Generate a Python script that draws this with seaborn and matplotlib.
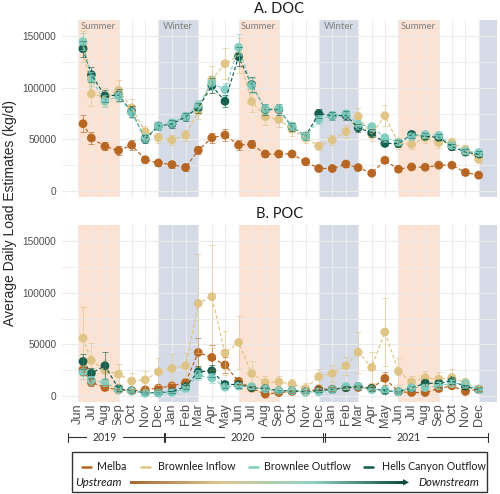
import numpy as np
import pandas as pd
import matplotlib
matplotlib.use("Agg")
import matplotlib.pyplot as plt
from matplotlib.lines import Line2D
from matplotlib.patches import Rectangle, Polygon
from matplotlib.colors import LinearSegmentedColormap
import seaborn as sns

# sample dates (first campaign started mid-June 2019)
sample_dates = ["2019-06-12", "2019-07-01", "2019-08-01", "2019-09-01", "2019-10-01", "2019-11-01",
                "2019-12-01", "2020-01-01", "2020-02-01", "2020-03-01", "2020-04-01", "2020-05-01",
                "2020-06-01", "2020-07-01", "2020-08-01", "2020-09-01", "2020-10-01", "2020-11-01",
                "2020-12-01", "2021-01-01", "2021-02-01", "2021-03-01", "2021-04-01", "2021-05-01",
                "2021-06-01", "2021-07-01", "2021-08-01", "2021-09-01", "2021-10-01", "2021-11-01",
                "2021-12-01"]
sites = ["Melba", "Brownlee Inflow", "Brownlee Outflow", "Hells Canyon Outflow"]
site_colors = ["#b5621c", "#dfc383", "#80cdc1", "#0d5a48"]
# order the layers are drawn in (light teal ends up on top)
draw_order = ["Melba", "Brownlee Inflow", "Hells Canyon Outflow", "Brownlee Outflow"]

# DOC loads (kg/d)
doc_melba = [65200, 51300, 43200, 39100, 44500, 30200, 27100, 25500, 22700, 39400, 51500, 54200, 44500,
             45200, 35800, 35800, 35800, 28400, 21700, 21700, 26000, 22600, 17100, 29700, 21000, 23200,
             22900, 24900, 24900, 17800, 15200]
doc_inflow = [140000, 94200, 91000, 97700, 80700, 57400, 51600, 49300, 53900, 77400, 108000, 123500, 131500,
              86800, 72000, 69300, 59700, 51300, 43500, 49300, 57500, 72300, 54800, 73000, 46100, 45200,
              51600, 46800, 46800, 40300, 30700]
doc_outflow = [145000, 108700, 87000, 91900, 75800, 51600, 62900, 66200, 72500, 82900, 104800, 98400, 139500,
               102200, 79700, 79700, 63000, 53000, 69300, 73200, 75000, 64500, 62300, 51600, 47400, 52600,
               54800, 53900, 44200, 38700, 37100]
doc_hells = [138000, 112900, 92300, 93000, 77000, 50300, 63000, 65000, 72000, 80700, 102200, 87000, 130300,
             103200, 79000, 79000, 62300, 53200, 75100, 73000, 73200, 61300, 56500, 46100, 46000, 54800,
             53000, 52000, 42900, 37700, 35500]
doc_melba_err = [8000, 6000, 4000, 4000, 5000, 3000, 3000, 3000, 3000, 4000, 5000, 6000, 5000, 4000, 3000, 3000,
                 3000, 3000, 2000, 2000, 3000, 2000, 2000, 3000, 2000, 2000, 2000, 2000, 2000, 2000, 2000]
doc_inflow_err = [15000, 12000, 9000, 10000, 9000, 6000, 5000, 5000, 5000, 8000, 13000, 15000, 17000, 10000,
                  8000, 7000, 6000, 5000, 4000, 5000, 6000, 8000, 6000, 10000, 5000, 5000, 5000, 5000, 5000,
                  4000, 4000]
doc_outflow_err = [8000, 7000, 6000, 6000, 5000, 4000, 4000, 4000, 4000, 5000, 7000, 6000, 13000, 7000, 5000,
                   5000, 4000, 4000, 4000, 4000, 4000, 4000, 4000, 4000, 3000, 3000, 3000, 3000, 3000, 3000, 3000]
doc_hells_err = [8000, 7000, 6000, 6000, 5000, 4000, 4000, 4000, 4000, 5000, 7000, 6000, 9000, 7000, 5000,
                 5000, 4000, 4000, 4000, 4000, 4000, 4000, 4000, 3000, 3000, 3000, 3000, 3000, 3000, 3000, 3000]

# POC loads (kg/d)
poc_melba = [25300, 13000, 8100, 5800, 4900, 5800, 7500, 9700, 12900, 42100, 37300, 30000, 14100, 7500, 1600,
             3200, 4200, 4200, 6500, 6500, 7800, 8100, 7500, 17000, 4000, 3200, 3200, 7100, 9700, 4200, 6500]
poc_inflow = [56100, 34400, 24600, 21100, 14300, 15600, 23300, 26600, 29200, 89800, 96300, 41600, 51900, 21700,
              12900, 13500, 11400, 7100, 18600, 21800, 29200, 42500, 27600, 62000, 23700, 13500, 17500, 16200,
              17800, 12500, 6500]
poc_outflow = [22700, 15000, 12900, 6000, 4500, 2600, 2600, 3200, 7100, 20100, 17300, 8500, 9500, 9000, 6500,
               5000, 5000, 3500, 4000, 6000, 9000, 9000, 6000, 5500, 4000, 8000, 8000, 10000, 12000, 12000, 6000]
poc_hells = [33400, 21900, 29200, 7100, 5000, 3000, 3000, 4000, 9000, 23300, 24300, 11000, 11000, 8000, 7000,
             5000, 5000, 4000, 5000, 6000, 8000, 9000, 7000, 5000, 4000, 7500, 12300, 12000, 14600, 9000, 6000]
poc_melba_err = [5000, 3000, 2000, 2000, 2000, 2000, 2000, 2000, 3000, 14000, 12000, 8000, 3000, 2000, 1000,
                 1000, 1000, 1000, 2000, 2000, 2000, 2000, 2000, 6000, 1000, 1000, 1000, 2000, 2000, 1000, 2000]
poc_inflow_err = [30000, 17000, 10000, 10000, 8000, 9000, 13000, 14000, 12000, 48000, 50000, 21000, 26000,
                  12000, 6000, 6000, 5000, 5000, 7000, 8000, 9000, 20000, 15000, 33000, 13000, 6000, 7000,
                  7000, 8000, 5000, 4000]
poc_outflow_err = [6000, 4000, 3000, 2000, 1000, 1000, 1000, 1000, 2000, 5000, 5000, 3000, 3000, 2000, 2000,
                   1000, 1000, 1000, 1000, 2000, 2000, 2000, 2000, 2000, 1000, 2000, 2000, 3000, 3000, 3000, 2000]
poc_hells_err = [7000, 5000, 13000, 2000, 1000, 1000, 1000, 1000, 2000, 6000, 6000, 3000, 3000, 2000, 2000,
                 1000, 1000, 1000, 1000, 2000, 2000, 2000, 2000, 2000, 1000, 2000, 3000, 3000, 3000, 2000, 2000]

summer_start = ["2019-06-01", "2020-06-01", "2021-06-01"]
summer_end = ["2019-09-01", "2020-09-01", "2021-09-01"]
winter_start = ["2019-12-01", "2020-12-01", "2021-12-01"]
winter_end = ["2020-03-01", "2021-03-01", "2022-03-01"]
month_ticks = pd.date_range("2019-06-01", "2021-12-01", freq="MS")
years = ["2019", "2020", "2021"]

sns.set_theme(style="whitegrid")
plt.rcParams["font.family"] = ["Lato", "DejaVu Sans"]

W, H = 500, 494
fig = plt.figure(figsize=(W / 100, H / 100), dpi=100)


def fx(px):
    return px / W


def fy(py):
    return 1 - py / H


ax_top = fig.add_axes([fx(62), fy(197), fx(497) - fx(62), fy(20) - fy(197)])
ax_bot = fig.add_axes([fx(62), fy(402), fx(497) - fx(62), fy(225) - fy(402)])

dates = pd.to_datetime(sample_dates)
palette = dict(zip(sites, site_colors))
panels = [
    (ax_top, "A. DOC", [doc_melba, doc_inflow, doc_outflow, doc_hells],
     [doc_melba_err, doc_inflow_err, doc_outflow_err, doc_hells_err]),
    (ax_bot, "B. POC", [poc_melba, poc_inflow, poc_outflow, poc_hells],
     [poc_melba_err, poc_inflow_err, poc_outflow_err, poc_hells_err]),
]

for ax, title, vals, errs in panels:
    ax.set_facecolor("white")
    for s, e in zip(summer_start, summer_end):
        ax.axvspan(pd.Timestamp(s), pd.Timestamp(e), color="#fbe2d3", lw=0, zorder=0)
    for s, e in zip(winter_start, winter_end):
        ax.axvspan(pd.Timestamp(s), pd.Timestamp(e), color="#d5dbe6", lw=0, zorder=0)

    parts = {site: pd.DataFrame({"date": dates, "load": v, "err": er, "site": site})
             for site, v, er in zip(sites, vals, errs)}
    df = pd.concat([parts[s] for s in draw_order], ignore_index=True)

    # points first, then dashed lines and error bars on top (ggplot layer order)
    sns.scatterplot(data=df, x="date", y="load", hue="site", hue_order=draw_order, palette=palette,
                    s=40, edgecolor="none", alpha=0.95, legend=False, ax=ax, zorder=2)
    sns.lineplot(data=df, x="date", y="load", hue="site", hue_order=draw_order, palette=palette,
                 linestyle=(0, (3, 2)), linewidth=0.85, errorbar=None, sort=False, legend=False,
                 ax=ax, zorder=3)
    for site in draw_order:
        d = parts[site]
        ax.errorbar(d.date, d.load, yerr=d.err, fmt="none", ecolor=palette[site], elinewidth=0.6,
                    capsize=2.5, capthick=0.6, alpha=0.7, zorder=3)

    ax.set_xlim(pd.Timestamp("2019-04-25"), pd.Timestamp("2022-01-12"))
    ax.set_ylim(-6000, 166000)
    ax.set_yticks([0, 50000, 100000, 150000])
    ax.set_yticklabels(["0", "50000", "100000", "150000"], family="Liberation Sans")
    ax.set_yticks([25000, 75000, 125000], minor=True)
    ax.set_xticks(month_ticks)
    ax.set_axisbelow(True)
    ax.grid(which="major", color="#ebebeb", lw=0.8)
    ax.grid(which="minor", axis="y", color="#ebebeb", lw=0.6)
    ax.tick_params(axis="y", which="both", length=0, pad=4, labelsize=7.3, labelcolor="#4d4d4d")
    ax.tick_params(axis="x", length=0)
    for sp in ax.spines.values():
        sp.set_visible(False)
    ax.set_xlabel("")
    ax.set_ylabel("")
    ax.set_title(title, fontsize=10.5, pad=5, color="#1a1a1a")

ax_top.set_xticklabels([])
ax_bot.set_xticklabels(month_ticks.strftime("%b"), rotation=90, family="Liberation Sans",
                       fontsize=9.2, color="#4d4d4d")
ax_bot.tick_params(axis="x", pad=1)

for s, e in zip(summer_start, summer_end):
    mid = pd.Timestamp(s) + (pd.Timestamp(e) - pd.Timestamp(s)) / 2
    ax_top.text(mid, 0.965, "Summer", transform=ax_top.get_xaxis_transform(), ha="center",
                va="center", fontsize=7, color="#7f7f7f")
for s, e in zip(winter_start[:2], winter_end[:2]):
    mid = pd.Timestamp(s) + (pd.Timestamp(e) - pd.Timestamp(s)) / 2
    ax_top.text(mid, 0.965, "Winter", transform=ax_top.get_xaxis_transform(), ha="center",
                va="center", fontsize=7, color="#7f7f7f")

fig.text(fx(10), fy(213), "Average Daily Load Estimates (kg/d)", rotation=90, ha="center",
         va="center", fontsize=10, family="Liberation Sans")

# year bracket under the month labels
by = fy(437.3)
bx = [68.3, 164.3, 324, 488.3]
ylab_x = [105, 243, 409]
fig.add_artist(Line2D([fx(bx[0]), fx(bx[-1])], [by, by], color="#333333", lw=0.8))
for x in bx:
    for dx in ([0] if x in (bx[0], bx[-1]) else [-0.8, 0.8]):
        fig.add_artist(Line2D([fx(x + dx), fx(x + dx)], [fy(433), fy(441.5)], color="#333333", lw=0.8))
for x, yr in zip(ylab_x, years):
    fig.text(fx(x), by, yr, ha="center", va="center", fontsize=7.6, color="#333333",
             bbox=dict(boxstyle="square,pad=0.6", fc="white", ec="none"))

# legend box
fig.add_artist(Rectangle((fx(71.7), fy(491.7)), fx(486.7) - fx(71.7), fy(451.7) - fy(491.7),
                         transform=fig.transFigure, fill=False, ec="#333333", lw=1))
handle_x = [86.7, 145, 253, 368]
label_x = [97, 158, 264, 382]
ry = fy(466.7)
for hx, lx, site, c in zip(handle_x, label_x, sites, site_colors):
    fig.add_artist(Line2D([fx(hx - 4.5), fx(hx + 4.5)], [ry, ry], color=c, lw=1.8))
    fig.text(fx(lx), ry, site, ha="left", va="center", fontsize=7.7, color="#1a1a1a")

gy = fy(482.3)
fig.text(fx(75), gy, "Upstream", ha="left", va="center", fontsize=8.2, style="italic", color="#1a1a1a")
fig.text(fx(479), gy, "Downstream", ha="right", va="center", fontsize=8.2, style="italic", color="#1a1a1a")
grad_cmap = LinearSegmentedColormap.from_list("updown", ["#a66a30", "#dcc590", "#8fd2c4", "#0c4d43"])
gax = fig.add_axes([fx(130), gy - 1.7 / H, fx(404) - fx(130), 3.4 / H])
gax.imshow(np.linspace(0, 1, 256)[None, :], aspect="auto", cmap=grad_cmap)
gax.set_axis_off()
fig.add_artist(Polygon([[fx(403), gy + 3.2 / H], [fx(409), gy], [fx(403), gy - 3.2 / H]],
                       closed=True, transform=fig.transFigure, fc="#0c4d43", ec="none"))

fig.savefig("out.png", dpi=100)
